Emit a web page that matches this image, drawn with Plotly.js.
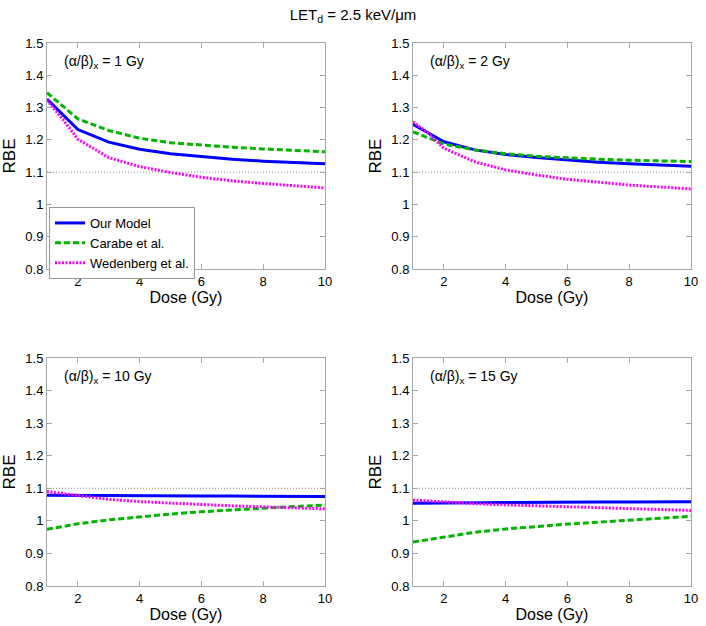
<!DOCTYPE html>
<html>
<head>
<meta charset="utf-8">
<script src="https://cdn.plot.ly/plotly-3.0.1.min.js"></script>
<style>html,body{margin:0;padding:0;background:#fff;}#chart{width:706px;height:626px;}</style>
</head>
<body>
<div id="chart"></div>
<script>
// ---- Data ----
const dose = [1, 2, 3, 4, 5, 6, 7, 8, 9, 10];
const doseW = [1, 1.5, 2, 3, 4, 5, 6, 7, 8, 9, 10];

const panelLabels = ["1", "2", "10", "15"];

const ourModel_ab1 = [1.326, 1.232, 1.193, 1.171, 1.157, 1.148, 1.140, 1.134, 1.130, 1.126];
const carabe_ab1   = [1.346, 1.265, 1.229, 1.205, 1.191, 1.183, 1.177, 1.172, 1.168, 1.163];
const weden_ab1    = [1.323, 1.265, 1.202, 1.145, 1.117, 1.099, 1.084, 1.073, 1.065, 1.057, 1.051];

const ourModel_ab2 = [1.248, 1.194, 1.169, 1.155, 1.145, 1.137, 1.131, 1.126, 1.122, 1.118];
const carabe_ab2   = [1.225, 1.187, 1.169, 1.157, 1.149, 1.144, 1.140, 1.137, 1.135, 1.133];
const weden_ab2    = [1.256, 1.220, 1.174, 1.132, 1.107, 1.091, 1.078, 1.068, 1.060, 1.054, 1.048];

const ourModel_ab10 = [1.079, 1.078, 1.078, 1.077, 1.077, 1.076, 1.076, 1.076, 1.075, 1.075];
const carabe_ab10   = [0.974, 0.991, 1.003, 1.013, 1.021, 1.028, 1.034, 1.039, 1.044, 1.048];
const weden_ab10    = [1.090, 1.084, 1.078, 1.066, 1.059, 1.054, 1.049, 1.046, 1.043, 1.040, 1.037];

const ourModel_ab15 = [1.054, 1.055, 1.056, 1.056, 1.057, 1.057, 1.058, 1.058, 1.059, 1.059];
const carabe_ab15   = [0.935, 0.951, 0.965, 0.975, 0.983, 0.990, 0.996, 1.002, 1.008, 1.014];
const weden_ab15    = [1.064, 1.061, 1.058, 1.053, 1.049, 1.046, 1.043, 1.041, 1.038, 1.035, 1.032];

const REF_RBE = 1.1;
const seriesNames = ["Our Model", "Carabe et al.", "Wedenberg et al."];
const yTicks = [0.8, 0.9, 1, 1.1, 1.2, 1.3, 1.4, 1.5];
const xTicks = [2, 4, 6, 8, 10];

// ---- Build ----
const panels = [
  {our: ourModel_ab1, car: carabe_ab1, wed: weden_ab1},
  {our: ourModel_ab2, car: carabe_ab2, wed: weden_ab2},
  {our: ourModel_ab10, car: carabe_ab10, wed: weden_ab10},
  {our: ourModel_ab15, car: carabe_ab15, wed: weden_ab15}
];

const W = 706, H = 626;
const xDom = [[47 / W, 325 / W], [413 / W, 691 / W]];
const yDom = [[1 - 269 / H, 1 - 43 / H], [1 - 586 / H, 1 - 358 / H]];

const FONT = "Liberation Sans, Arial, Helvetica, sans-serif";
const traces = [];
const layout = {
  width: W, height: H,
  margin: {l: 0, r: 0, t: 0, b: 0},
  paper_bgcolor: "#fff", plot_bgcolor: "#fff",
  font: {family: FONT, size: 13, color: "#000"},
  showlegend: true,
  title: {text: "LET<sub>d</sub> = 2.5 keV/μm", font: {family: FONT, size: 15, color: "#000"},
          x: 0.5, xanchor: "center", y: 1 - 15 / H, yanchor: "middle"},
  legend: {x: 49 / W, y: 1 - 207 / H, xanchor: "left", yanchor: "top",
           bgcolor: "#fff", bordercolor: "#999", borderwidth: 1,
           font: {family: FONT, size: 13, color: "#000"}, itemwidth: 30, tracegroupgap: 0},
  annotations: [], shapes: []
};

panels.forEach((p, i) => {
  const col = i % 2, row = Math.floor(i / 2);
  const sfx = i === 0 ? "" : String(i + 1);
  const xa = "x" + sfx, ya = "y" + sfx;
  const show = i === 0;
  traces.push({x: dose, y: p.our, xaxis: xa, yaxis: ya, type: "scatter", mode: "lines",
    name: seriesNames[0], showlegend: show, legendgroup: "a",
    line: {color: "#0000ff", width: 3}});
  traces.push({x: dose, y: p.car, xaxis: xa, yaxis: ya, type: "scatter", mode: "lines",
    name: seriesNames[1], showlegend: show, legendgroup: "b",
    line: {color: "#00b400", width: 3, dash: "6px,3px"}});
  traces.push({x: doseW, y: p.wed, xaxis: xa, yaxis: ya, type: "scatter", mode: "lines",
    name: seriesNames[2], showlegend: show, legendgroup: "c",
    line: {color: "#ff00ff", width: 3, dash: "2px,1.5px"}});

  const axCommon = {
    showgrid: false, zeroline: false, showline: true, mirror: "ticks",
    linecolor: "#a8a8a8", linewidth: 1, ticks: "inside", ticklen: 5, tickcolor: "#a8a8a8",
    tickfont: {family: FONT, size: 13, color: "#000"}, automargin: false, fixedrange: true
  };
  layout["xaxis" + sfx] = Object.assign({}, axCommon, {
    domain: xDom[col], anchor: ya, range: [1, 10], tickvals: xTicks, ticktext: xTicks.map(String),
    title: {text: "Dose (Gy)", font: {family: FONT, size: 16, color: "#000"}, standoff: 0}
  });
  layout["yaxis" + sfx] = Object.assign({}, axCommon, {
    domain: yDom[row], anchor: xa, range: [0.8, 1.5], tickvals: yTicks,
    ticktext: yTicks.map(v => String(v)),
    title: {text: "RBE", font: {family: FONT, size: 17, color: "#000"}, standoff: 5}
  });
  layout.annotations.push({
    xref: xa + " domain", yref: ya + " domain", x: 0.054, y: 0.915,
    xanchor: "left", yanchor: "middle", showarrow: false,
    text: "(α/β)<sub>x</sub> = " + panelLabels[i] + " Gy",
    font: {family: FONT, size: 14, color: "#000"}
  });
  layout.shapes.push({
    type: "line", xref: xa + " domain", yref: ya, x0: 0, x1: 1, y0: REF_RBE, y1: REF_RBE,
    line: {color: "#8c8c8c", width: 1, dash: "1px,2px"}, layer: "below"
  });
});

Plotly.newPlot("chart", traces, layout, {displayModeBar: false, staticPlot: true});
</script>
</body>
</html>
